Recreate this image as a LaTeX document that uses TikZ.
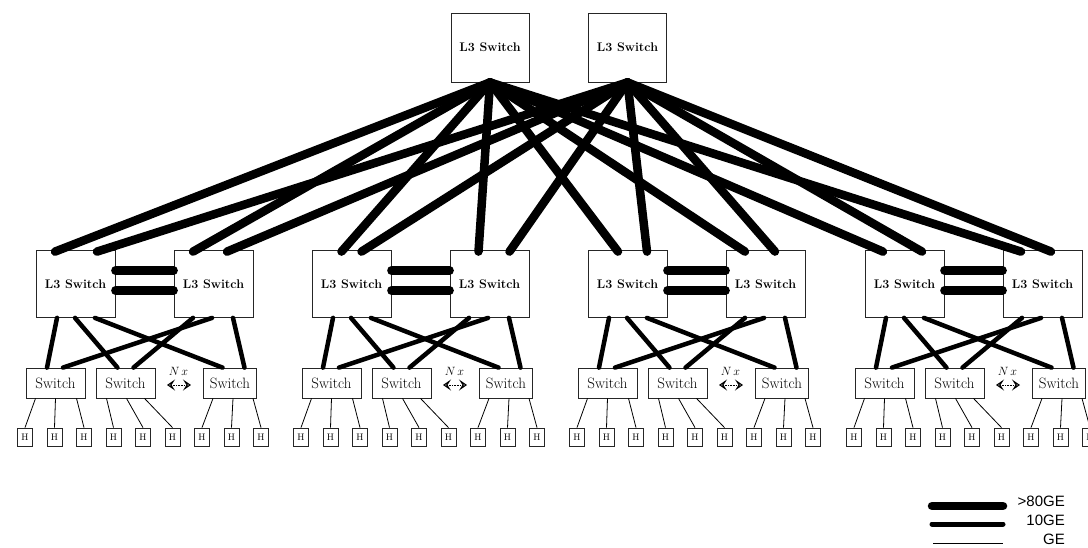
\documentclass[tikz,border=0pt]{standalone}
\usepackage{fontspec}
\usepackage{tikz}
\usetikzlibrary{arrows.meta, positioning}
\newfontfamily\legendfont{Liberation Sans}

\begin{document}
\begin{tikzpicture}[x=1pt, y=-1pt,
          core/.style={rectangle, draw=black!85, line width=0.8pt, minimum width=78pt, minimum height=69pt,
            inner sep=0pt, font=\fontsize{12.5}{14}\selectfont\bfseries},
          agg/.style={core, minimum width=79pt, minimum height=67pt},
          acc/.style={rectangle, draw=black!85, line width=0.8pt, minimum width=59pt, minimum height=30pt,
            inner sep=0pt, font=\fontsize{15}{17}\selectfont},
          host/.style={rectangle, draw=black!85, line width=0.8pt, minimum width=15pt, minimum height=18pt,
            inner sep=0pt, font=\fontsize{9.5}{10}\selectfont},
          fat/.style={line width=8.5pt, line cap=round},
          mid/.style={line width=4.5pt, line cap=round},
          thin/.style={line width=0.8pt},
          legend/.style={anchor=east, inner sep=0pt, font=\legendfont\fontsize{15}{17}\selectfont}]
        \useasboundingbox (0,0) rectangle (1088,547);
        % core layer
        \node[core] (coreA) at (490,47.5) {L3 Switch};
        \node[core] (coreB) at (627.5,47.5) {L3 Switch};
        % four pods
        \foreach \g/\ox in {1/0,2/276,3/552,4/829}{
          \node[agg] (aggL\g) at (75.5+\ox,284) {L3 Switch};
          \node[agg] (aggR\g) at (213.5+\ox,284) {L3 Switch};
          \node[acc] (sw\g-1) at (55.5+\ox,383) {Switch};
          \node[acc] (sw\g-2) at (125.5+\ox,383) {Switch};
          \node[acc, minimum width=53pt] (sw\g-3) at (230+\ox,383) {Switch};
          \foreach \h in {1,...,9}{\node[host] (h\g-\h) at (-4.5+29.5*\h+\ox,437) {H};}
          \node[font=\fontsize{11.5}{13}\selectfont] (nx\g) at (178.5+\ox,371) {$N\,x$};
          \coordinate (nxl\g) at (167+\ox,385);
          \coordinate (nxr\g) at (191+\ox,385);
          \draw[line width=0.6pt, densely dotted,
            {Stealth[open,length=8pt,width=11pt,inset=3.5pt,line width=1.1pt]}-{Stealth[open,length=8pt,width=11pt,inset=3.5pt,line width=1.1pt]}]
            (nxl\g) -- (nxr\g);
          % pair links
          \draw[fat] ([yshift=13.5pt]aggL\g.east) -- ([yshift=13.5pt]aggR\g.west);
          \draw[fat] ([yshift=-6.5pt]aggL\g.east) -- ([yshift=-6.5pt]aggR\g.west);
          % uplinks to access switches
          \draw[mid] ([xshift=-18.5pt]aggL\g.south) -- ([xshift=-8.5pt]sw\g-1.north);
          \draw[mid] ([xshift=-0.5pt]aggL\g.south) -- ([xshift=-8pt]sw\g-2.north);
          \draw[mid] ([xshift=19.5pt]aggL\g.south) -- ([xshift=-7.5pt]sw\g-3.north);
          \draw[mid] ([xshift=-1.5pt]aggR\g.south) -- ([xshift=7.5pt]sw\g-1.north);
          \draw[mid] ([xshift=-20.5pt]aggR\g.south) -- ([xshift=8pt]sw\g-2.north);
          \draw[mid] ([xshift=19.5pt]aggR\g.south) -- ([xshift=14.5pt]sw\g-3.north);
          % hosts
          \foreach \s/\h/\d in {1/1/-20,1/2/0,1/3/21,2/4/-19,2/5/1,2/6/19,3/7/-17,3/8/3,3/9/23}{
            \draw[thin] ([xshift=\d pt]sw\g-\s.south) -- (h\g-\h.north);}
        }
        % core to aggregation
        \foreach \a/\da/\db in {aggL1/-20.5/21.5, aggR1/-20.5/13.5, aggL2/-10/10, aggR2/-11/20,
            aggL3/-9.5/19.5, aggR3/-20.5/9.5, aggL4/-21.5/17.5, aggR4/-21.5/8.5}{
          \draw[fat] (coreA.south) -- ([xshift=\da pt, yshift=-1.5pt]\a.north);
          \draw[fat] (coreB.south) -- ([xshift=\db pt, yshift=-1.5pt]\a.north);
        }
        % legend
        \coordinate (k1a) at (932,506); \coordinate (k1b) at (1003,506);
        \coordinate (k2a) at (932,524); \coordinate (k2b) at (1003,524);
        \coordinate (k3a) at (933,543); \coordinate (k3b) at (1003,543);
        \draw[fat] (k1a) -- (k1b);
        \draw[mid, line width=5pt] (k2a) -- (k2b);
        \draw[thin] (k3a) -- (k3b);
        \node[legend] (t1) at (1065,501) {>80GE};
        \node[legend] (t2) at (1065,520) {10GE};
        \node[legend] (t3) at (1065,539) {GE};
      \end{tikzpicture}
\end{document}
